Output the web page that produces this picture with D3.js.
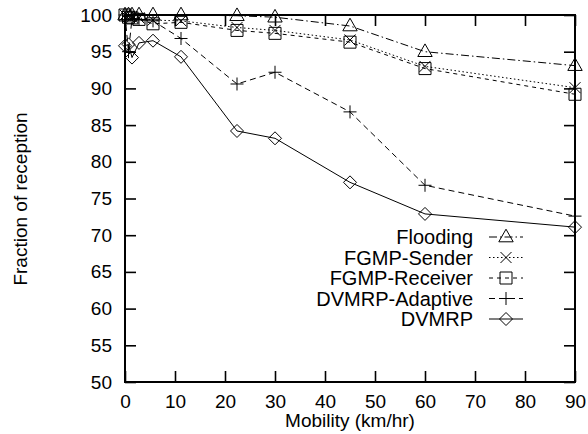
<!DOCTYPE html>
<html lang="en">
<head>
<meta charset="UTF-8">
<title>Fraction of reception vs mobility</title>
<style>
  body { margin: 0; background: #fff; }
  text { font-family: "Liberation Sans", Arial, Helvetica, sans-serif; fill: #000; }
  .domain { display: none; }
</style>
</head>
<body>
<svg width="588" height="434" id="svg"></svg>
<script src="https://d3js.org/d3.v7.min.js"></script>
<script>
// mobility in km/hr (shared by every series)
const mobility = [0, 0.7, 1.4, 2.8, 5.6, 11.2, 22.4, 30, 45, 60, 90]

// fraction of reception
const flooding = [100, 100, 100, 100, 100, 100, 99.9, 99.7, 98.5, 95.0, 93.1]
const fgmpSender = [100, 99.8, 99.7, 99.6, 99.3, 99.2, 98.3, 97.9, 96.6, 93.0, 90.1]
const fgmpReceiver = [100, 99.7, 99.6, 99.4, 98.8, 99.0, 97.9, 97.5, 96.3, 92.7, 89.2]
const dvmrpAdaptive = [100, 95.0, 99.5, 99.4, 99.2, 96.8, 90.6, 92.2, 86.8, 76.8, 72.6]
const dvmrp = [95.8, 96.0, 94.2, 96.2, 96.5, 94.3, 84.2, 83.2, 77.2, 72.9, 71.1]

const seriesNames = ["Flooding", "FGMP-Sender", "FGMP-Receiver", "DVMRP-Adaptive", "DVMRP"]
const xTicks = [0, 10, 20, 30, 40, 50, 60, 70, 80, 90]
const yTicks = [50, 55, 60, 65, 70, 75, 80, 85, 90, 95, 100]

const svg = d3.select("svg#svg")
const width = +svg.attr("width")
const height = +svg.attr("height")
const margin = { top: 15, right: 13, bottom: 52, left: 125 }
const innerWidth = width - margin.left - margin.right
const innerHeight = height - margin.top - margin.bottom

const g = svg.append("g").attr("transform", `translate(${margin.left},${margin.top})`)

const x = d3.scaleLinear().domain([0, 90]).range([0, innerWidth])
const y = d3.scaleLinear().domain([50, 100]).range([innerHeight, 0])

// axes, ticks pointing inwards like gnuplot
const tickLen = 11
g.append("g").attr("transform", `translate(0,${innerHeight})`)
  .call(d3.axisBottom(x).tickValues(xTicks).tickSizeInner(-tickLen).tickSizeOuter(0).tickPadding(13))
g.append("g")
  .call(d3.axisLeft(y).tickValues(yTicks).tickSizeInner(-tickLen).tickSizeOuter(0).tickPadding(13))
// mirrored ticks on top and right, no labels
g.append("g").attr("class", "mirror")
  .call(d3.axisTop(x).tickValues(xTicks).tickSizeInner(-tickLen).tickSizeOuter(0))
g.append("g").attr("class", "mirror").attr("transform", `translate(${innerWidth},0)`)
  .call(d3.axisRight(y).tickValues(yTicks).tickSizeInner(-tickLen).tickSizeOuter(0))
g.selectAll(".mirror .tick text").remove()

g.selectAll(".tick line").attr("stroke", "#000").attr("stroke-width", 1.6)
g.selectAll(".tick text").attr("font-size", 19).style("font-family", '"Liberation Sans", Arial, sans-serif')

g.append("rect").attr("width", innerWidth).attr("height", innerHeight)
  .attr("fill", "none").attr("stroke", "#000").attr("stroke-width", 2)

// axis titles
svg.append("text").attr("x", margin.left + innerWidth / 2).attr("y", 427)
  .attr("text-anchor", "middle").attr("font-size", 19).text("Mobility (km/hr)")
svg.append("text").attr("transform", "translate(27,199) rotate(-90)")
  .attr("text-anchor", "middle").attr("font-size", 19).text("Fraction of reception")

// marker shapes
const shapes = {
  triangle: s => `M0,${-s * 0.65}L${s * 0.6},${s * 0.4}L${-s * 0.6},${s * 0.4}Z`,
  cross: s => `M${-s / 2},${-s / 2}L${s / 2},${s / 2}M${-s / 2},${s / 2}L${s / 2},${-s / 2}`,
  square: s => `M${-s / 2},${-s / 2}H${s / 2}V${s / 2}H${-s / 2}Z`,
  plus: s => `M${-s / 2},0H${s / 2}M0,${-s / 2}V${s / 2}`,
  diamond: s => `M0,${-s / 2}L${s / 2},0L0,${s / 2}L${-s / 2},0Z`
}

const seriesValues = [flooding, fgmpSender, fgmpReceiver, dvmrpAdaptive, dvmrp]
const seriesDash = ["8,3,1.5,3", "1.5,2.5", "4,4", "6,4", null]
const seriesShape = ["triangle", "cross", "square", "plus", "diamond"]
const seriesSize = [12, 11, 12, 13, 13]

const series = seriesNames.map((name, i) => ({
  name: name,
  points: mobility.map((m, j) => ({ x: m, y: seriesValues[i][j] })),
  dash: seriesDash[i],
  shape: seriesShape[i],
  size: seriesSize[i]
}))

const line = d3.line().x(d => x(d.x)).y(d => y(d.y))

series.forEach(s => {
  g.append("path").datum(s.points)
    .attr("fill", "none").attr("stroke", "#000").attr("stroke-width", 1)
    .attr("stroke-dasharray", s.dash)
    .attr("d", line)
  g.append("g").selectAll("path").data(s.points).join("path")
    .attr("transform", d => `translate(${x(d.x)},${y(d.y)})`)
    .attr("d", shapes[s.shape](s.size))
    .attr("fill", "none").attr("stroke", "#000").attr("stroke-width", 1)
})

// legend
const legend = svg.append("g").attr("transform", "translate(473,237)")
series.forEach((s, i) => {
  const row = legend.append("g").attr("transform", `translate(0,${i * 20.5})`)
  row.append("text").attr("text-anchor", "end").attr("dy", "0.35em")
    .attr("font-size", 20).text(s.name)
  row.append("line").attr("x1", 16).attr("x2", 50)
    .attr("stroke", "#000").attr("stroke-width", 1).attr("stroke-dasharray", s.dash)
  row.append("path").attr("transform", "translate(33,0)")
    .attr("d", shapes[s.shape](s.size))
    .attr("fill", "none").attr("stroke", "#000").attr("stroke-width", 1)
})
</script>
</body>
</html>
